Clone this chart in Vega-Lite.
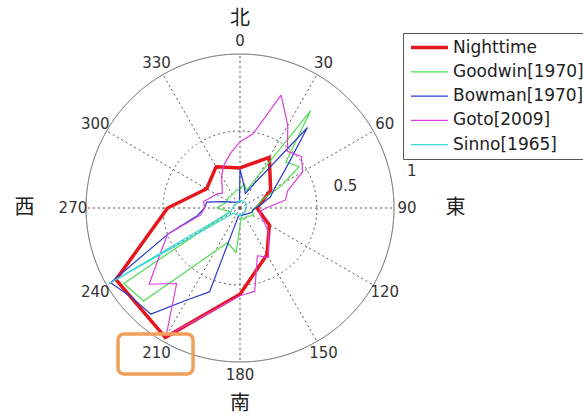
{
  "$schema": "https://vega.github.io/schema/vega-lite/v6.json",
  "width": 480,
  "height": 416,
  "autosize": {"type": "none"},
  "padding": {"left": 0, "top": 0, "right": 103, "bottom": 3},
  "background": "white",
  "config": {"view": {"stroke": null}, "font": "DejaVu Sans"},
  "datasets": {
    "series": [
      {"s": "Nighttime", "a": 0, "r": 0.26}, {"s": "Nighttime", "a": 30, "r": 0.38}, {"s": "Nighttime", "a": 60, "r": 0.23}, {"s": "Nighttime", "a": 90, "r": 0.11}, {"s": "Nighttime", "a": 120, "r": 0.22}, {"s": "Nighttime", "a": 150, "r": 0.35}, {"s": "Nighttime", "a": 180, "r": 0.56}, {"s": "Nighttime", "a": 210, "r": 0.97}, {"s": "Nighttime", "a": 240, "r": 0.93}, {"s": "Nighttime", "a": 270, "r": 0.47}, {"s": "Nighttime", "a": 300, "r": 0.25}, {"s": "Nighttime", "a": 330, "r": 0.31},
      {"s": "Goodwin[1970]", "a": 0, "r": 0.12}, {"s": "Goodwin[1970]", "a": 10, "r": 0.16}, {"s": "Goodwin[1970]", "a": 20, "r": 0.12}, {"s": "Goodwin[1970]", "a": 36, "r": 0.78}, {"s": "Goodwin[1970]", "a": 45, "r": 0.42}, {"s": "Goodwin[1970]", "a": 55, "r": 0.47}, {"s": "Goodwin[1970]", "a": 62, "r": 0.3}, {"s": "Goodwin[1970]", "a": 70, "r": 0.15}, {"s": "Goodwin[1970]", "a": 80, "r": 0.12}, {"s": "Goodwin[1970]", "a": 100, "r": 0.08}, {"s": "Goodwin[1970]", "a": 120, "r": 0.1}, {"s": "Goodwin[1970]", "a": 140, "r": 0.07}, {"s": "Goodwin[1970]", "a": 160, "r": 0.08}, {"s": "Goodwin[1970]", "a": 172, "r": 0.06}, {"s": "Goodwin[1970]", "a": 185, "r": 0.29}, {"s": "Goodwin[1970]", "a": 200, "r": 0.24}, {"s": "Goodwin[1970]", "a": 226, "r": 0.87}, {"s": "Goodwin[1970]", "a": 237, "r": 0.9}, {"s": "Goodwin[1970]", "a": 250, "r": 0.07}, {"s": "Goodwin[1970]", "a": 270, "r": 0.15}, {"s": "Goodwin[1970]", "a": 290, "r": 0.1}, {"s": "Goodwin[1970]", "a": 310, "r": 0.1}, {"s": "Goodwin[1970]", "a": 330, "r": 0.1}, {"s": "Goodwin[1970]", "a": 350, "r": 0.12},
      {"s": "Bowman[1970]", "a": 0, "r": 0.25}, {"s": "Bowman[1970]", "a": 10, "r": 0.15}, {"s": "Bowman[1970]", "a": 20, "r": 0.1}, {"s": "Bowman[1970]", "a": 30, "r": 0.18}, {"s": "Bowman[1970]", "a": 40, "r": 0.68}, {"s": "Bowman[1970]", "a": 50, "r": 0.38}, {"s": "Bowman[1970]", "a": 60, "r": 0.26}, {"s": "Bowman[1970]", "a": 70, "r": 0.21}, {"s": "Bowman[1970]", "a": 80, "r": 0.14}, {"s": "Bowman[1970]", "a": 90, "r": 0.1}, {"s": "Bowman[1970]", "a": 110, "r": 0.08}, {"s": "Bowman[1970]", "a": 130, "r": 0.06}, {"s": "Bowman[1970]", "a": 150, "r": 0.05}, {"s": "Bowman[1970]", "a": 170, "r": 0.05}, {"s": "Bowman[1970]", "a": 190, "r": 0.05}, {"s": "Bowman[1970]", "a": 200, "r": 0.58}, {"s": "Bowman[1970]", "a": 210, "r": 0.69}, {"s": "Bowman[1970]", "a": 220, "r": 0.9}, {"s": "Bowman[1970]", "a": 230, "r": 0.91}, {"s": "Bowman[1970]", "a": 240, "r": 0.97}, {"s": "Bowman[1970]", "a": 250, "r": 0.5}, {"s": "Bowman[1970]", "a": 260, "r": 0.28}, {"s": "Bowman[1970]", "a": 270, "r": 0.23}, {"s": "Bowman[1970]", "a": 280, "r": 0.22}, {"s": "Bowman[1970]", "a": 290, "r": 0.12}, {"s": "Bowman[1970]", "a": 300, "r": 0.08}, {"s": "Bowman[1970]", "a": 320, "r": 0.05}, {"s": "Bowman[1970]", "a": 340, "r": 0.04}, {"s": "Bowman[1970]", "a": 355, "r": 0.04},
      {"s": "Goto[2009]", "a": 0, "r": 0.43}, {"s": "Goto[2009]", "a": 10, "r": 0.49}, {"s": "Goto[2009]", "a": 20, "r": 0.78}, {"s": "Goto[2009]", "a": 30, "r": 0.62}, {"s": "Goto[2009]", "a": 40, "r": 0.48}, {"s": "Goto[2009]", "a": 50, "r": 0.52}, {"s": "Goto[2009]", "a": 60, "r": 0.47}, {"s": "Goto[2009]", "a": 70, "r": 0.33}, {"s": "Goto[2009]", "a": 80, "r": 0.3}, {"s": "Goto[2009]", "a": 90, "r": 0.17}, {"s": "Goto[2009]", "a": 100, "r": 0.13}, {"s": "Goto[2009]", "a": 110, "r": 0.14}, {"s": "Goto[2009]", "a": 120, "r": 0.18}, {"s": "Goto[2009]", "a": 130, "r": 0.24}, {"s": "Goto[2009]", "a": 140, "r": 0.29}, {"s": "Goto[2009]", "a": 150, "r": 0.37}, {"s": "Goto[2009]", "a": 160, "r": 0.33}, {"s": "Goto[2009]", "a": 170, "r": 0.55}, {"s": "Goto[2009]", "a": 180, "r": 0.57}, {"s": "Goto[2009]", "a": 190, "r": 0.64}, {"s": "Goto[2009]", "a": 200, "r": 0.76}, {"s": "Goto[2009]", "a": 210, "r": 0.96}, {"s": "Goto[2009]", "a": 220, "r": 0.64}, {"s": "Goto[2009]", "a": 230, "r": 0.77}, {"s": "Goto[2009]", "a": 240, "r": 0.6}, {"s": "Goto[2009]", "a": 250, "r": 0.5}, {"s": "Goto[2009]", "a": 260, "r": 0.26}, {"s": "Goto[2009]", "a": 270, "r": 0.23}, {"s": "Goto[2009]", "a": 280, "r": 0.24}, {"s": "Goto[2009]", "a": 290, "r": 0.2}, {"s": "Goto[2009]", "a": 300, "r": 0.18}, {"s": "Goto[2009]", "a": 310, "r": 0.15}, {"s": "Goto[2009]", "a": 320, "r": 0.18}, {"s": "Goto[2009]", "a": 330, "r": 0.24}, {"s": "Goto[2009]", "a": 340, "r": 0.3}, {"s": "Goto[2009]", "a": 350, "r": 0.36},
      {"s": "Sinno[1965]", "a": 0, "r": 0.05}, {"s": "Sinno[1965]", "a": 30, "r": 0.05}, {"s": "Sinno[1965]", "a": 60, "r": 0.05}, {"s": "Sinno[1965]", "a": 90, "r": 0.04}, {"s": "Sinno[1965]", "a": 120, "r": 0.04}, {"s": "Sinno[1965]", "a": 150, "r": 0.04}, {"s": "Sinno[1965]", "a": 180, "r": 0.05}, {"s": "Sinno[1965]", "a": 210, "r": 0.05}, {"s": "Sinno[1965]", "a": 230, "r": 0.05}, {"s": "Sinno[1965]", "a": 240, "r": 0.98}, {"s": "Sinno[1965]", "a": 250, "r": 0.06}, {"s": "Sinno[1965]", "a": 270, "r": 0.05}, {"s": "Sinno[1965]", "a": 300, "r": 0.04}, {"s": "Sinno[1965]", "a": 330, "r": 0.04}
    ],
    "rings": [{"ring": 0.5, "dash": "dot"}, {"ring": 1, "dash": "solid"}],
    "spokes": [{"a": 0, "t": "0"}, {"a": 30, "t": "30"}, {"a": 60, "t": "60"}, {"a": 90, "t": "90"}, {"a": 120, "t": "120"}, {"a": 150, "t": "150"}, {"a": 180, "t": "180"}, {"a": 210, "t": "210"}, {"a": 240, "t": "240"}, {"a": 270, "t": "270"}, {"a": 300, "t": "300"}, {"a": 330, "t": "330"}],
    "compass": [{"a": 0, "t": "北"}, {"a": 90, "t": "東"}, {"a": 180, "t": "南"}, {"a": 270, "t": "西"}],
    "ringlabels": [{"ring": 0.5, "t": "0.5"}, {"ring": 1, "t": "1"}]
  },
  "layer": [
    {
      "data": {"name": "rings"},
      "mark": {"type": "point", "shape": "circle", "filled": false, "stroke": "#555", "strokeWidth": 1, "opacity": 1},
      "encoding": {
        "x": {"datum": 0, "type": "quantitative", "scale": {"domain": [-1.5584, 1.5584], "nice": false, "zero": false}, "axis": null},
        "y": {"datum": 0, "type": "quantitative", "scale": {"domain": [-1.3506, 1.3506], "nice": false, "zero": false}, "axis": null},
        "size": {"field": "ring", "type": "quantitative", "scale": {"type": "pow", "exponent": 2, "domain": [0, 1], "range": [0, 94864], "zero": true}, "legend": null},
        "strokeDash": {"field": "dash", "type": "nominal", "scale": {"domain": ["dot", "solid"], "range": [[2, 3], [1, 0]]}, "legend": null}
      }
    },
    {
      "data": {"name": "spokes"},
      "transform": [
        {"calculate": "sin(datum.a*PI/180)", "as": "sx"},
        {"calculate": "cos(datum.a*PI/180)", "as": "sy"},
        {"calculate": "0", "as": "zx"}
      ],
      "mark": {"type": "rule", "stroke": "#555", "strokeDash": [2, 3], "strokeWidth": 1},
      "encoding": {
        "x": {"field": "zx", "type": "quantitative", "scale": {"domain": [-1.5584, 1.5584], "nice": false, "zero": false}, "axis": null},
        "y": {"field": "zx", "type": "quantitative", "scale": {"domain": [-1.3506, 1.3506], "nice": false, "zero": false}, "axis": null},
        "x2": {"field": "sx"},
        "y2": {"field": "sy"}
      }
    },
    {
      "data": {"name": "series"},
      "transform": [
        {"calculate": "datum.r*sin(datum.a*PI/180)", "as": "px"},
        {"calculate": "datum.r*cos(datum.a*PI/180)", "as": "py"}
      ],
      "mark": {"type": "line", "interpolate": "linear-closed", "strokeJoin": "round"},
      "encoding": {
        "x": {"field": "px", "type": "quantitative", "scale": {"domain": [-1.5584, 1.5584], "nice": false, "zero": false}, "axis": null},
        "y": {"field": "py", "type": "quantitative", "scale": {"domain": [-1.3506, 1.3506], "nice": false, "zero": false}, "axis": null},
        "order": {"field": "a", "type": "quantitative"},
        "color": {
          "field": "s", "type": "nominal",
          "scale": {"domain": ["Nighttime", "Goodwin[1970]", "Bowman[1970]", "Goto[2009]", "Sinno[1965]"], "range": ["#e5161d", "#4ddd4d", "#2b3bcc", "#dd3ddd", "#3dd8d8"]},
          "legend": {
            "orient": "none", "legendX": 403, "legendY": 33, "title": null,
            "symbolType": "M-2,0H2", "symbolSize": 342, "symbolOffset": 12,
            "labelFont": "DejaVu Sans", "labelFontSize": 17, "labelColor": "#222", "labelLimit": 400,
            "padding": 6, "rowPadding": 6.3, "labelOffset": 15,
            "strokeColor": "#555", "fillColor": "white",
            "encode": {"symbols": {"update": {"strokeWidth": {"signal": "datum.value === 'Nighttime' ? 3.5 : 1.3"}}}}
          }
        },
        "strokeWidth": {"condition": {"test": "datum.s === 'Nighttime'", "value": 3.5}, "value": 1.2}
      }
    },
    {
      "data": {"name": "spokes"},
      "transform": [
        {"calculate": "1.085*sin(datum.a*PI/180)", "as": "lx"},
        {"calculate": "1.085*cos(datum.a*PI/180)", "as": "ly"}
      ],
      "mark": {"type": "text", "font": "DejaVu Sans", "fontSize": 15, "color": "#333", "align": "center", "baseline": "middle"},
      "encoding": {
        "x": {"field": "lx", "type": "quantitative", "scale": {"domain": [-1.5584, 1.5584], "nice": false, "zero": false}, "axis": null},
        "y": {"field": "ly", "type": "quantitative", "scale": {"domain": [-1.3506, 1.3506], "nice": false, "zero": false}, "axis": null},
        "text": {"field": "t"}
      }
    },
    {
      "data": {"name": "ringlabels"},
      "transform": [
        {"calculate": "(datum.ring*0.88+0.26)*sin(78*PI/180)", "as": "lx"},
        {"calculate": "(datum.ring*0.88+0.26)*cos(78*PI/180)", "as": "ly"}
      ],
      "mark": {"type": "text", "font": "DejaVu Sans", "fontSize": 15, "color": "#333", "align": "center", "baseline": "middle"},
      "encoding": {
        "x": {"field": "lx", "type": "quantitative", "scale": {"domain": [-1.5584, 1.5584], "nice": false, "zero": false}, "axis": null},
        "y": {"field": "ly", "type": "quantitative", "scale": {"domain": [-1.3506, 1.3506], "nice": false, "zero": false}, "axis": null},
        "text": {"field": "t"}
      }
    },
    {
      "data": {"name": "compass"},
      "transform": [
        {"calculate": "1.40*sin(datum.a*PI/180)", "as": "lx"},
        {"calculate": "cos(datum.a*PI/180) > 0 ? 1.228*cos(datum.a*PI/180) : 1.27*cos(datum.a*PI/180)", "as": "ly"}
      ],
      "mark": {"type": "text", "font": "Noto Sans CJK JP", "fontSize": 20, "color": "#222", "align": "center", "baseline": "middle"},
      "encoding": {
        "x": {"field": "lx", "type": "quantitative", "scale": {"domain": [-1.5584, 1.5584], "nice": false, "zero": false}, "axis": null},
        "y": {"field": "ly", "type": "quantitative", "scale": {"domain": [-1.3506, 1.3506], "nice": false, "zero": false}, "axis": null},
        "text": {"field": "t"}
      }
    },
    {
      "data": {"values": [{"x1": -0.792, "x2": -0.305, "y1": -0.818, "y2": -1.078}]},
      "mark": {"type": "rect", "fillOpacity": 0, "stroke": "#f0a05a", "strokeWidth": 3.5, "cornerRadius": 6},
      "encoding": {
        "x": {"field": "x1", "type": "quantitative", "scale": {"domain": [-1.5584, 1.5584], "nice": false, "zero": false}, "axis": null},
        "x2": {"field": "x2"},
        "y": {"field": "y1", "type": "quantitative", "scale": {"domain": [-1.3506, 1.3506], "nice": false, "zero": false}, "axis": null},
        "y2": {"field": "y2"}
      }
    }
  ]
}
